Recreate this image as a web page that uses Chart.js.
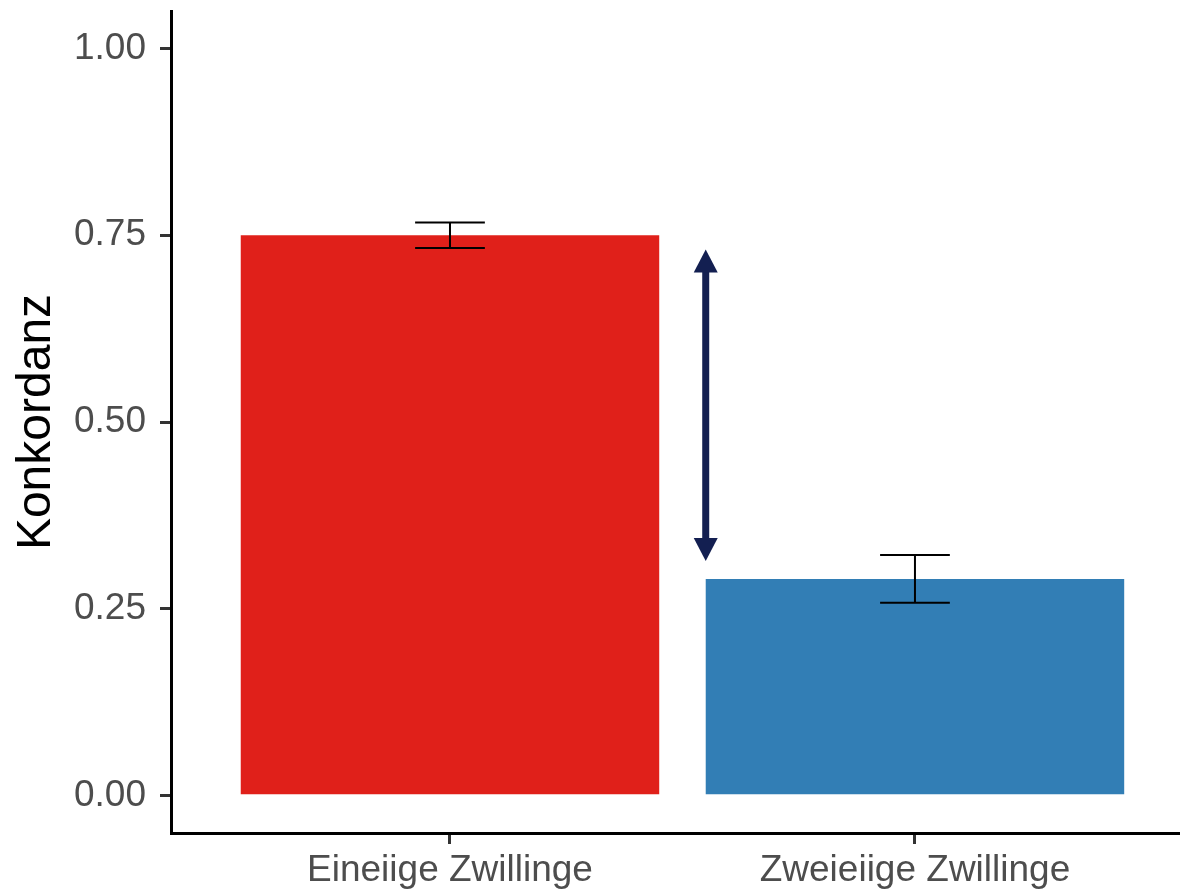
<!DOCTYPE html>
<html>
<head>
<meta charset="utf-8">
<script src="https://cdn.jsdelivr.net/npm/chart.js@4"></script>
<style>
  html, body { margin: 0; padding: 0; background: #fff; }
</style>
</head>
<body>
<canvas id="konkordanz" width="1180" height="893"></canvas>
<script>
// twin groups and their concordance with error bar limits
const groups = ['Eineiige Zwillinge', 'Zweieiige Zwillinge'];
const positions = [1, 2];
const concordance = [0.75, 0.29];
const errLow = [0.733, 0.258];
const errHigh = [0.767, 0.322];
const barColors = ['#E0201A', '#327EB5'];
const yTicks = [0, 0.25, 0.5, 0.75, 1];

// double arrow between the two bar heights
const arrowX = 1.55;
const arrowY = [0.314, 0.731];

const tickFont = { family: 'Liberation Sans', size: 37 };
const tickColor = '#4D4D4D';

const extras = {
  id: 'extras',
  afterDatasetsDraw(chart) {
    const { ctx, scales: { x, y } } = chart;
    ctx.save();

    // error bars, cap width 0.15 units
    ctx.strokeStyle = '#000';
    ctx.lineWidth = 2;
    positions.forEach((p, i) => {
      const cx = x.getPixelForValue(p);
      const x0 = x.getPixelForValue(p - 0.075);
      const x1 = x.getPixelForValue(p + 0.075);
      const lo = y.getPixelForValue(errLow[i]);
      const hi = y.getPixelForValue(errHigh[i]);
      ctx.beginPath();
      ctx.moveTo(x0, hi); ctx.lineTo(x1, hi);
      ctx.moveTo(cx, hi); ctx.lineTo(cx, lo);
      ctx.moveTo(x0, lo); ctx.lineTo(x1, lo);
      ctx.stroke();
    });

    // arrow
    const ax = x.getPixelForValue(arrowX);
    const bottom = y.getPixelForValue(arrowY[0]);
    const top = y.getPixelForValue(arrowY[1]);
    const head = 23, half = 12;
    ctx.strokeStyle = '#131F51';
    ctx.fillStyle = '#131F51';
    ctx.lineWidth = 7;
    ctx.beginPath();
    ctx.moveTo(ax, top + head - 2);
    ctx.lineTo(ax, bottom - head + 2);
    ctx.stroke();
    ctx.beginPath();
    ctx.moveTo(ax, top);
    ctx.lineTo(ax - half, top + head);
    ctx.lineTo(ax + half, top + head);
    ctx.closePath();
    ctx.fill();
    ctx.beginPath();
    ctx.moveTo(ax, bottom);
    ctx.lineTo(ax - half, bottom - head);
    ctx.lineTo(ax + half, bottom - head);
    ctx.closePath();
    ctx.fill();

    ctx.restore();
  }
};

new Chart(document.getElementById('konkordanz'), {
  type: 'bar',
  data: {
    datasets: [{
      data: positions.map((p, i) => ({ x: p, y: concordance[i] })),
      backgroundColor: barColors,
      borderWidth: 0,
      categoryPercentage: 1,
      barPercentage: 0.9
    }]
  },
  options: {
    responsive: false,
    animation: false,
    layout: { padding: { top: 11, right: 0, left: 0, bottom: 0 } },
    plugins: {
      legend: { display: false },
      tooltip: { enabled: false }
    },
    scales: {
      x: {
        type: 'linear',
        offset: false,
        min: 0.4,
        max: 2.57,
        afterBuildTicks: (scale) => { scale.ticks = positions.map(v => ({ value: v })); },
        afterFit: (scale) => {
          scale.height = 60;
          scale.paddingLeft = 0;
          scale.paddingRight = 0;
        },
        ticks: {
          callback: (v) => groups[positions.indexOf(v)] || '',
          font: tickFont,
          color: tickColor,
          padding: 5,
          maxRotation: 0,
          autoSkip: false
        },
        grid: { offset: false, drawOnChartArea: false, drawTicks: true, tickLength: 11, lineWidth: 3, color: '#333' },
        border: { display: true, color: '#000', width: 3 }
      },
      y: {
        min: -0.05,
        max: 1.05,
        afterBuildTicks: (scale) => { scale.ticks = yTicks.map(v => ({ value: v })); },
        afterFit: (scale) => {
          scale.width = 171;
          scale.paddingTop = 0;
          scale.paddingBottom = 0;
        },
        ticks: {
          callback: (v) => v.toFixed(2),
          font: tickFont,
          color: tickColor,
          padding: 14
        },
        title: {
          display: true,
          text: 'Konkordanz',
          font: { family: 'Liberation Sans', size: 48 },
          color: '#000',
          padding: { top: 8, bottom: 0 }
        },
        grid: { drawOnChartArea: false, drawTicks: true, tickLength: 11, lineWidth: 3, color: '#333' },
        border: { display: true, color: '#000', width: 3 }
      }
    }
  },
  plugins: [extras]
});
</script>
</body>
</html>
